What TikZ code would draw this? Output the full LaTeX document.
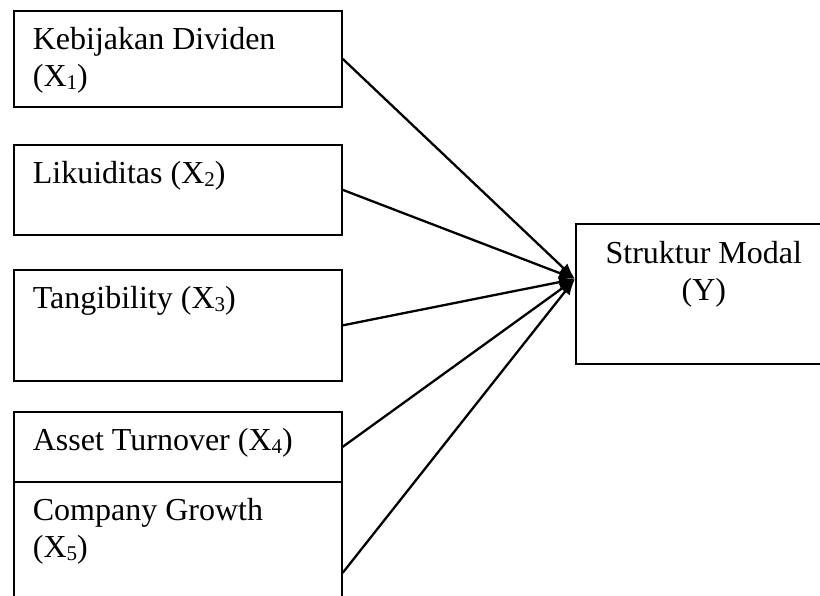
\documentclass[tikz,border=0pt]{standalone}
\usepackage{fontspec}
\setmainfont{Liberation Serif}
\usetikzlibrary{arrows.meta}
\newcommand{\xsub}[1]{\raisebox{-3pt}{\fontsize{21}{21}\selectfont #1}}
\begin{document}
\begin{tikzpicture}[x=1pt,y=-1pt,
 var/.style={draw,line width=1.7pt,anchor=north west,inner ysep=0pt,
  inner xsep=19pt,text width=290pt,align=flush left,text height=39pt,
  font=\fontsize{32}{37}\selectfont},
 link/.style={line width=2.3pt,-{Latex[length=16pt,width=12pt]}}]
\useasboundingbox (0,0) rectangle (820,596);
\clip (0,0) rectangle (820,596);
\node[var,text depth=57pt] (x1) at (13,10) {Kebijakan Dividen\\(X\xsub{1})};
\node[var,text depth=51pt] (x2) at (13,144) {Likuiditas (X\xsub{2})};
\node[var,text depth=72pt] (x3) at (13,269) {Tangibility (X\xsub{3})};
\node[var,text depth=31pt] (x4) at (13,411) {Asset Turnover (X\xsub{4})};
\node[var,text depth=143pt] (x5) at (13,481) {Company Growth\\(X\xsub{5})};
\node[draw,line width=1.7pt,anchor=north west,inner sep=0pt,text width=256pt,
 align=flush center,text height=40pt,text depth=100pt,
 font=\fontsize{32}{37}\selectfont] (y) at (575,223) {Struktur Modal\\(Y)};
\coordinate (tip) at (575,279);
\foreach \v in {x1,x2,x3,x4,x5}
 \draw[link] (\v.east) -- (tip);
\end{tikzpicture}
\end{document}
